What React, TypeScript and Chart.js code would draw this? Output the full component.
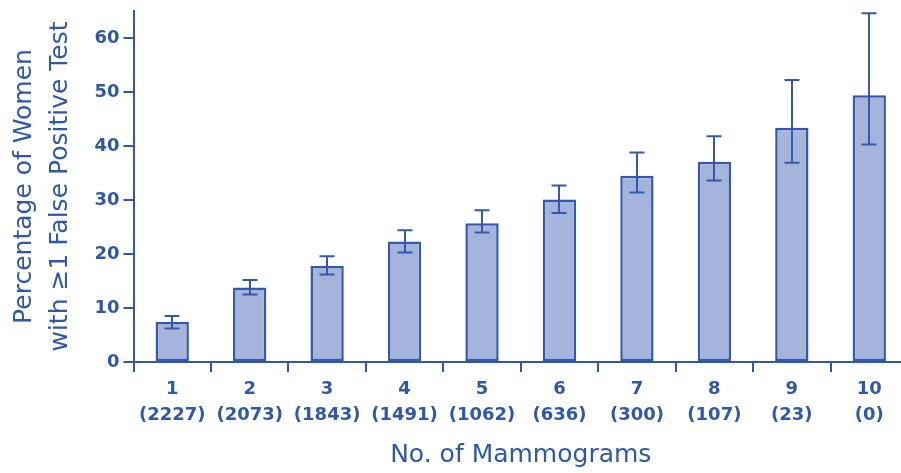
import React, { useEffect, useRef } from 'react';
import { Chart, registerables } from 'chart.js';

Chart.register(...registerables);

// ---- data ----
const mammogramCounts = ['1', '2', '3', '4', '5', '6', '7', '8', '9', '10'];
const sampleSizes = ['(2227)', '(2073)', '(1843)', '(1491)', '(1062)', '(636)', '(300)', '(107)', '(23)', '(0)'];
const percentages = [7.4, 13.8, 17.8, 22.3, 25.7, 30.1, 34.5, 37.1, 43.4, 49.4];
const ciUpper = [8.5, 15.2, 19.6, 24.4, 28.1, 32.7, 38.8, 41.8, 52.2, 64.6];
const ciLower = [6.2, 12.5, 16.2, 20.3, 24.0, 27.6, 31.4, 33.6, 36.9, 40.3];
const yTicks = [0, 10, 20, 30, 40, 50, 60];

const TEXT = '#2f58a8';
const AXIS = '#2f58a8';
const FILL = '#a4b4da';
const BORDER = '#3559aa';
const FAMILY = "'DejaVu Sans', 'Liberation Sans', sans-serif";
const CAP = 15;

const errorBarPlugin = {
  id: 'errorBars',
  afterDatasetsDraw(chart: any) {
    const meta = chart.getDatasetMeta(0);
    const y = chart.scales.y;
    const ctx = chart.ctx;
    ctx.save();
    ctx.strokeStyle = BORDER;
    ctx.lineWidth = 2;
    meta.data.forEach((bar: any, i: number) => {
      const x = Math.round(bar.x);
      const top = y.getPixelForValue(ciUpper[i]);
      const bot = y.getPixelForValue(ciLower[i]);
      ctx.beginPath();
      ctx.moveTo(x, top);
      ctx.lineTo(x, bot);
      ctx.moveTo(x - CAP / 2, top);
      ctx.lineTo(x + CAP / 2, top);
      ctx.moveTo(x - CAP / 2, bot);
      ctx.lineTo(x + CAP / 2, bot);
      ctx.stroke();
    });
    ctx.restore();
  },
};

export default function App() {
  const ref = useRef<HTMLCanvasElement | null>(null);

  useEffect(() => {
    if (!ref.current) return;
    const chart = new Chart(ref.current, {
      type: 'bar',
      data: {
        labels: mammogramCounts.map((c, i) => [c, sampleSizes[i]]),
        datasets: [
          {
            data: percentages,
            backgroundColor: FILL,
            borderColor: BORDER,
            borderWidth: 2.5,
            borderSkipped: false,
            barPercentage: 0.43,
            categoryPercentage: 1,
          },
        ],
      },
      options: {
        animation: false,
        responsive: false,
        maintainAspectRatio: false,
        devicePixelRatio: 1,
        layout: { padding: { top: 11, left: 0, right: 0, bottom: 0 } },
        plugins: {
          legend: { display: false },
          tooltip: { enabled: false },
        },
        scales: {
          x: {
            type: 'category',
            offset: true,
            grid: {
              offset: true,
              drawOnChartArea: false,
              drawTicks: true,
              tickLength: 10,
              color: AXIS,
              lineWidth: 2,
            },
            border: { display: true, color: AXIS, width: 2 },
            ticks: {
              color: TEXT,
              font: { family: FAMILY, size: 18, weight: 'bold', lineHeight: 1.44 },
              padding: 4,
              maxRotation: 0,
              autoSkip: false,
            },
            title: {
              display: true,
              text: 'No. of Mammograms',
              color: TEXT,
              font: { family: FAMILY, size: 25, lineHeight: 1.2 },
              padding: { top: 0, bottom: 3 },
            },
            afterFit: (s: any) => {
              s.height = 111;
              s.paddingLeft = 0;
              s.paddingRight = 0;
            },
          },
          y: {
            min: 0,
            max: 65,
            ticks: {
              stepSize: 10,
              color: TEXT,
              font: { family: FAMILY, size: 18, weight: 'bold' },
              padding: 4,
            },
            afterBuildTicks: (s: any) => {
              s.ticks = s.ticks.filter((t: any) => yTicks.includes(t.value));
            },
            grid: {
              drawOnChartArea: false,
              drawTicks: true,
              tickLength: 10,
              color: AXIS,
              lineWidth: 2,
            },
            border: { display: true, color: AXIS, width: 2 },
            title: {
              display: true,
              text: ['Percentage of Women', 'with \u22651 False Positive Test'],
              color: TEXT,
              font: { family: FAMILY, size: 25, lineHeight: 1.44 },
              padding: { top: 6, bottom: 0 },
            },
            afterFit: (s: any) => {
              s.width = 133.5;
              s.paddingTop = 0;
              s.paddingBottom = 0;
            },
          },
        },
      },
      plugins: [errorBarPlugin],
    } as any);
    return () => chart.destroy();
  }, []);

  return (
    <div
      style={{
        position: 'absolute',
        left: 0,
        top: 0,
        width: 901,
        height: 473,
        overflow: 'hidden',
        background: '#ffffff',
      }}
    >
      <canvas ref={ref} width={908} height={473} style={{ width: 908, height: 473, display: 'block' }} />
    </div>
  );
}
